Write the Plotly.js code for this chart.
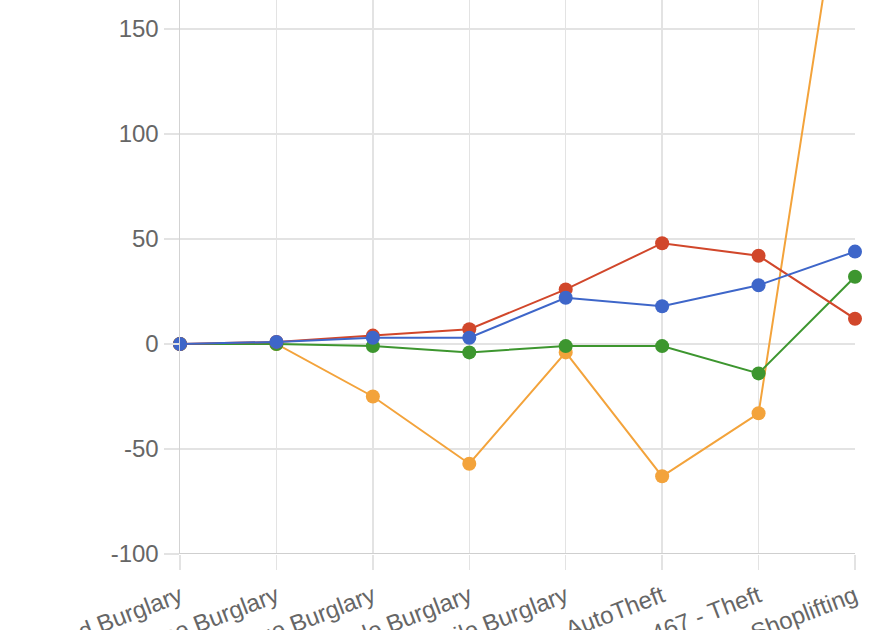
<!DOCTYPE html>
<html>
<head>
<meta charset="utf-8">
<script src="https://cdn.plot.ly/plotly-3.0.1.min.js"></script>
<style>
  html, body { margin: 0; padding: 0; background: #fff; }
  #myDiv { width: 872px; height: 630px; }
</style>
</head>
<body>
<div id="myDiv"></div>
<script>
var categories = ["Attempted Burglary", "Residence Burglary", "Garage Burglary", "Vehicle Burglary",
    "Automobile Burglary", "AutoTheft", "PC 467 - Theft", "Shoplifting"];

var blueVals = [0, 1, 3, 3, 22, 18, 28, 44];
var redVals = [0, 1, 4, 7, 26, 48, 42, 12];
var orangeVals = [0, 0, -25, -57, -4, -63, -33, 263];
var greenVals = [0, 0, -1, -4, -1, -1, -14, 32];

function series(vals, color) {
    return {
        x: categories,
        y: vals,
        mode: 'lines+markers',
        type: 'scatter',
        cliponaxis: false,
        line: { color: color, width: 2 },
        marker: { color: color, size: 14 },
        hoverinfo: 'y'
    };
}

var data = [
    series(orangeVals, '#f3a33b'),
    series(greenVals, '#3d962f'),
    series(redVals, '#d1472b'),
    series(blueVals, '#3e66c9')
];

var tickFont = { family: 'Liberation Sans, Arial, sans-serif', size: 24, color: '#666666' };

var layout = {
    width: 872,
    height: 630,
    margin: { l: 180, r: 17, t: 0, b: 76, pad: 0 },
    showlegend: false,
    paper_bgcolor: '#ffffff',
    plot_bgcolor: '#ffffff',
    xaxis: {
        type: 'category',
        range: [0, 7],
        automargin: false,
        showgrid: true,
        gridcolor: '#e3e3e3',
        gridwidth: 1.5,
        ticks: 'outside',
        ticklen: 15,
        tickcolor: '#e3e3e3',
        tickwidth: 1.5,
        tickangle: -21,
        ticklabelstandoff: 3,
        tickfont: tickFont,
        showline: false,
        zeroline: false
    },
    yaxis: {
        range: [-100, 163.8],
        automargin: false,
        tickvals: [-100, -50, 0, 50, 100, 150],
        ticktext: ['-100', '-50', '0', '50', '100', '150'],
        showgrid: true,
        gridcolor: '#e3e3e3',
        gridwidth: 1.5,
        ticks: 'outside',
        ticklen: 15,
        tickcolor: '#e3e3e3',
        tickwidth: 1.5,
        tickfont: tickFont,
        showline: true,
        linecolor: '#d3d3d3',
        linewidth: 1.5,
        mirror: false,
        zeroline: false
    },
    shapes: [{
        type: 'line', xref: 'paper', yref: 'y',
        x0: 0, x1: 1, y0: -100, y1: -100,
        line: { color: '#cfcfcf', width: 2 }
    }]
};

Plotly.newPlot('myDiv', data, layout, { displayModeBar: false, staticPlot: true });
</script>
</body>
</html>
